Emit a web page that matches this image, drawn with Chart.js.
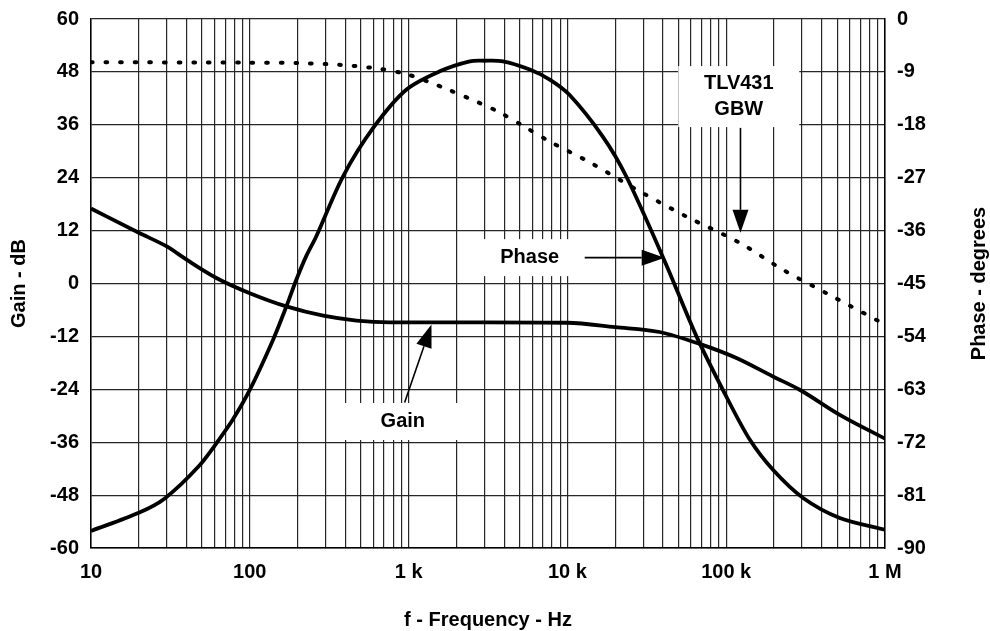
<!DOCTYPE html>
<html>
<head>
<meta charset="utf-8">
<title>TLV431 loop gain and phase</title>
<script src="https://cdn.jsdelivr.net/npm/chart.js@4.4.1/dist/chart.umd.min.js"></script>
<style>
  html, body { margin: 0; padding: 0; background: #fff; }
  #wrap { width: 990px; height: 631px; }
</style>
</head>
<body>
<div id="wrap"><canvas id="bode" width="990" height="631"></canvas></div>
<script>
// Loop gain, dB (left axis)
const gainFreq = [10, 20, 30, 40, 62, 100, 170, 290, 470, 760, 1000, 3000, 10000, 20000, 38000, 68000, 116000, 197000, 290000, 519000, 1000000];
const gainDb = [17.0, 11.5, 8.4, 5.4, 1.2, -2.2, -5.2, -7.3, -8.4, -8.8, -8.8, -8.8, -8.9, -9.9, -11.0, -13.7, -16.9, -21.1, -24.1, -29.8, -35.2];

// Loop phase, degrees (right axis)
const phaseFreq = [10, 20, 29, 48, 65, 78, 100, 140, 170, 196, 227, 262, 386, 600, 970, 1570, 2430, 3000, 3930, 5790, 7740, 10300, 16700, 23500, 41000, 65000, 100000, 141000, 197000, 305000, 519000, 1000000];
const phaseDeg = [-87.1, -84.0, -81.6, -76.0, -71.3, -68.2, -63.1, -54.6, -48.9, -44.4, -40.3, -37.0, -26.8, -18.5, -12.0, -8.9, -7.2, -7.1, -7.2, -8.6, -10.3, -12.9, -20.0, -26.8, -41.2, -54.0, -64.2, -71.6, -76.7, -81.5, -84.9, -86.9];

// TLV431 open-loop gain, dB (left axis, dotted)
const gbwFreq = [10, 100, 200, 368, 658, 968, 1325, 1770, 2735, 3750, 5520, 7740, 13800, 28500, 56100, 122000, 228000, 428000, 1000000];
const gbwDb = [50.2, 50.1, 50.0, 49.6, 48.7, 47.5, 45.8, 44.0, 41.1, 38.8, 35.3, 32.2, 27.5, 20.9, 15.2, 9.2, 3.1, -2.2, -9.3];

// Axis ticks
const decadeTicks = [10, 100, 1000, 10000, 100000, 1000000];
const decadeLabels = ['10', '100', '1 k', '10 k', '100 k', '1 M'];
const gainRange = [-60, 60, 12];
const phaseRange = [-90, 0, 9];

// minor log grid: 1..9 per decade
const gridFreqs = [];
decadeTicks.slice(0, -1).forEach(d => { for (let k = 1; k < 10; k++) gridFreqs.push(d * k); });
gridFreqs.push(decadeTicks[decadeTicks.length - 1]);

const toXY = (xs, ys) => xs.map((x, i) => ({ x: x, y: ys[i] }));

const FONT = '"Liberation Sans", Arial, sans-serif';
const tickFont = { family: FONT, size: 20, weight: 'bold' };
const gridStyle = { color: '#262626', lineWidth: 1.2, drawTicks: false };

// fixed side widths so the plot area stays put
const fitSide = w => s => { s.width = w; s.paddingTop = 0; s.paddingBottom = 0; };

// callouts: text placed in data units, boxes in px
const callouts = [
  { lines: ['TLV431', 'GBW'], x: 120000, y: 42.4, axis: 'y', box: [121, 61],
    arrow: { from: [123000, 35.3], to: [123000, 11.5], axis: 'y' } },
  { lines: ['Phase'], x: 5790, y: -40.6, axis: 'y2', box: [100, 37],
    arrow: { from: [12850, -40.6], to: [41000, -40.6], axis: 'y2' } },
  { lines: ['Gain'], x: 920, y: -31.3, axis: 'y', box: [130, 37],
    arrow: { from: [944, -27.0], to: [1393, -9.3], axis: 'y' } }
];

function drawArrow(ctx, x0, y0, x1, y1) {
  const ang = Math.atan2(y1 - y0, x1 - x0);
  const len = 23, half = 8;
  const bx = x1 - len * Math.cos(ang), by = y1 - len * Math.sin(ang);
  ctx.beginPath();
  ctx.moveTo(x0, y0);
  ctx.lineTo(bx, by);
  ctx.stroke();
  ctx.beginPath();
  ctx.moveTo(x1, y1);
  ctx.lineTo(bx + half * Math.sin(ang), by - half * Math.cos(ang));
  ctx.lineTo(bx - half * Math.sin(ang), by + half * Math.cos(ang));
  ctx.closePath();
  ctx.fill();
}

const calloutPlugin = {
  id: 'callouts',
  beforeDatasetsDraw(chart) {
    const ctx = chart.ctx, sx = chart.scales.x;
    ctx.save();
    ctx.fillStyle = '#fff';
    callouts.forEach(c => {
      const px = sx.getPixelForValue(c.x), py = chart.scales[c.axis].getPixelForValue(c.y);
      ctx.fillRect(px - c.box[0] / 2, py - c.box[1] / 2, c.box[0], c.box[1]);
    });
    ctx.restore();
  },
  afterDatasetsDraw(chart) {
    const ctx = chart.ctx, sx = chart.scales.x;
    ctx.save();
    ctx.fillStyle = '#000';
    ctx.strokeStyle = '#000';
    ctx.lineWidth = 1.6;
    ctx.font = 'bold 20px ' + FONT;
    ctx.textAlign = 'center';
    ctx.textBaseline = 'middle';
    callouts.forEach(c => {
      const px = sx.getPixelForValue(c.x), py = chart.scales[c.axis].getPixelForValue(c.y);
      const lh = 26, top = py - (c.lines.length - 1) * lh / 2;
      c.lines.forEach((t, i) => ctx.fillText(t, px, top + i * lh));
      const a = c.arrow, sy = chart.scales[a.axis];
      drawArrow(ctx, sx.getPixelForValue(a.from[0]), sy.getPixelForValue(a.from[1]),
        sx.getPixelForValue(a.to[0]), sy.getPixelForValue(a.to[1]));
    });
    ctx.restore();
  },
  afterDraw(chart) {
    const ctx = chart.ctx, area = chart.chartArea;
    const midY = (area.top + area.bottom) / 2;
    ctx.save();
    ctx.fillStyle = '#000';
    ctx.font = 'bold 20px ' + FONT;
    ctx.textAlign = 'center';
    ctx.textBaseline = 'middle';
    ctx.fillText('f - Frequency - Hz', (area.left + area.right) / 2, 620);
    [[19, 'Gain - dB'], [979, 'Phase - degrees']].forEach(([x, t]) => {
      ctx.save();
      ctx.translate(x, midY);
      ctx.rotate(-Math.PI / 2);
      ctx.fillText(t, 0, 0);
      ctx.restore();
    });
    ctx.restore();
  }
};

new Chart(document.getElementById('bode'), {
  type: 'line',
  data: {
    datasets: [
      {
        label: 'Gain',
        data: toXY(gainFreq, gainDb),
        yAxisID: 'y',
        borderColor: '#000',
        borderWidth: 3.8,
        cubicInterpolationMode: 'monotone',
        pointRadius: 0
      },
      {
        label: 'Phase',
        data: toXY(phaseFreq, phaseDeg),
        yAxisID: 'y2',
        borderColor: '#000',
        borderWidth: 3.8,
        tension: 0.3,
        pointRadius: 0
      },
      {
        label: 'TLV431 GBW',
        data: toXY(gbwFreq, gbwDb),
        yAxisID: 'y',
        borderColor: '#000',
        borderWidth: 4,
        borderDash: [1.7, 12.9],
        borderCapStyle: 'round',
        tension: 0.3,
        pointRadius: 0
      }
    ]
  },
  options: {
    responsive: false,
    animation: false,
    devicePixelRatio: 1,
    layout: { padding: { top: 19, left: 0, right: 0, bottom: 0 } },
    plugins: { legend: { display: false }, tooltip: { enabled: false } },
    scales: {
      x: {
        type: 'logarithmic',
        min: 10,
        max: 1000000,
        afterBuildTicks: s => { s.ticks = gridFreqs.map(v => ({ value: v })); },
        afterFit: s => { s.height = 83; },
        ticks: {
          autoSkip: false,
          maxRotation: 0,
          padding: 12,
          color: '#000',
          font: tickFont,
          callback: v => {
            const i = decadeTicks.indexOf(v);
            return i >= 0 ? decadeLabels[i] : '';
          }
        },
        grid: gridStyle,
        border: { color: '#000', width: 1.5 }
      },
      y: {
        type: 'linear',
        position: 'left',
        min: gainRange[0],
        max: gainRange[1],
        afterFit: fitSide(91),
        ticks: { stepSize: gainRange[2], padding: 12, color: '#000', font: tickFont },
        grid: gridStyle,
        border: { color: '#000', width: 1.5 }
      },
      y2: {
        type: 'linear',
        position: 'right',
        min: phaseRange[0],
        max: phaseRange[1],
        afterFit: fitSide(105),
        ticks: { stepSize: phaseRange[2], padding: 12, color: '#000', font: tickFont },
        grid: { drawOnChartArea: false, drawTicks: false },
        border: { color: '#000', width: 1.5 }
      }
    }
  },
  plugins: [calloutPlugin]
});
</script>
</body>
</html>
